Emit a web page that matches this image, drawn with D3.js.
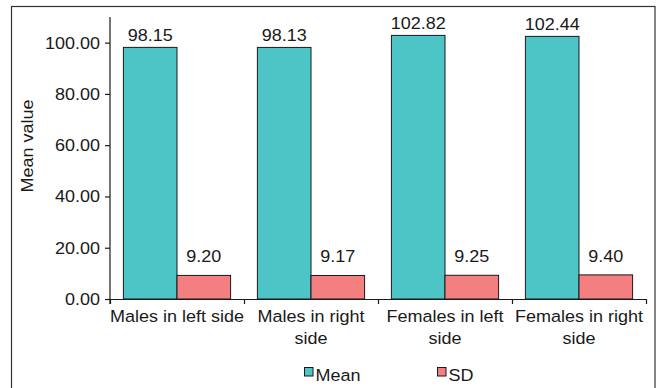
<!DOCTYPE html>
<html><head><meta charset="utf-8">
<script src="https://cdn.jsdelivr.net/npm/d3@7"></script>
<style>
body{margin:0;background:#fff}
svg{display:block}
text{font-family:"Liberation Sans",Arial,sans-serif;fill:#1a1a1a;font-size:17px}
</style>
</head><body><svg id="c" width="657" height="388"></svg>
<script>
const categories = ["Males in left side","Males in right side","Females in left side","Females in right side"];
const categoryLines = [["Males in left side"],["Males in right","side"],["Females in left","side"],["Females in right","side"]];
const seriesNames = ["Mean","SD"];
const meanValues = [98.15,98.13,102.82,102.44];
const sdValues = [9.20,9.17,9.25,9.40];
const seriesColors = ["#4DC4C5","#F47F80"];
const yTicks = [0,20,40,60,80,100];
const yMax = 110;
const yTitle = "Mean value";

const K = 1.06; // horizontal stretch of the reference's font
const svg = d3.select("#c");
const M = {l:110, r:646, t:17, b:299};

function stext(parent, x, y, rot, str, anchor){
  const g = parent.append("g").attr("transform",`translate(${x},${y}) rotate(${rot}) scale(${K},1)`);
  g.append("text").attr("text-anchor",anchor||"middle").text(str);
  return g;
}

// outer frame
svg.append("rect").attr("x",11.5).attr("y",6.5).attr("width",643.5).attr("height",390)
  .attr("fill","none").attr("stroke","#333").attr("stroke-width",1.2);

const y = d3.scaleLinear().domain([0,yMax]).range([M.b,M.t]);
const x0 = d3.scaleBand().domain(categories).range([M.l,M.r]).paddingInner(0.2).paddingOuter(0.1);
const step = x0.step();
const x1 = d3.scaleBand().domain(seriesNames).range([0,x0.bandwidth()]);

const data = categories.map((c,i)=>({cat:c, vals:[meanValues[i], sdValues[i]]}));

// bars
const groups = svg.append("g").selectAll("g").data(data).join("g")
  .attr("transform",d=>`translate(${x0(d.cat)},0)`);
groups.selectAll("rect").data(d=>d.vals.map((v,j)=>({s:seriesNames[j],v,j}))).join("rect")
  .attr("x",d=>x1(d.s)).attr("y",d=>y(d.v))
  .attr("width",x1.bandwidth()).attr("height",d=>y(0)-y(d.v))
  .attr("fill",d=>seriesColors[d.j]).attr("stroke","#1a1a1a").attr("stroke-width",1);

// value labels
const labelOffset = [6.5, 13];
data.forEach(d=>{
  d.vals.forEach((v,j)=>{
    stext(svg, x0(d.cat)+x1(seriesNames[j])+x1.bandwidth()/2, y(v)-labelOffset[j], 0, v.toFixed(2), "middle");
  });
});

// y axis
const yAxis = svg.append("g").attr("transform",`translate(${M.l},0)`)
  .call(d3.axisLeft(y).tickValues(yTicks).tickSize(5).tickSizeOuter(0).tickFormat(""));
yAxis.select(".domain").attr("d",`M0,${M.t}V${M.b+5}`).attr("stroke","#1a1a1a").attr("stroke-width",1.2);
yAxis.selectAll(".tick line").attr("stroke","#1a1a1a").attr("stroke-width",1.2);
yTicks.forEach(t=>{
  stext(svg, M.l-10, y(t)+6, 0, t.toFixed(2), "end");
});

// x axis
const xAxisScale = d3.scaleLinear().domain([0,categories.length]).range([M.l,M.r]);
const xAxis = svg.append("g").attr("transform",`translate(0,${M.b})`)
  .call(d3.axisBottom(xAxisScale).tickValues(d3.range(categories.length+1)).tickSize(5).tickSizeOuter(0).tickFormat(""));
xAxis.select(".domain").attr("stroke","#1a1a1a").attr("stroke-width",1.2);
xAxis.selectAll(".tick line").attr("stroke","#1a1a1a").attr("stroke-width",1.2);

categoryLines.forEach((lines,i)=>{
  const cx = x0(categories[i]) + x0.bandwidth()/2;
  lines.forEach((ln,k)=>{
    stext(svg, cx, 321.5 + k*22, 0, ln, "middle");
  });
});

// y title
stext(svg, 33, 146, -90, yTitle, "middle");

// legend
const legX = [304.5, 437.5];
seriesNames.forEach((s,j)=>{
  svg.append("rect").attr("x",legX[j]).attr("y",367.5).attr("width",8.5).attr("height",8.5)
    .attr("fill",seriesColors[j]).attr("stroke","#1a1a1a").attr("stroke-width",1);
  stext(svg, legX[j]+11, 381, 0, s, "start");
});
</script>
</body></html>
